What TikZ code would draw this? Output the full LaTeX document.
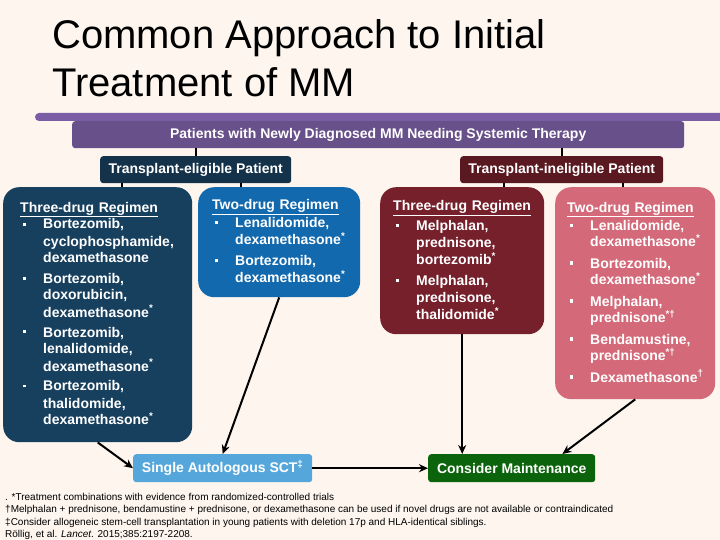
\documentclass[tikz,border=0pt]{standalone}
\usepackage{fontspec}
\setmainfont{Liberation Sans}
\usetikzlibrary{arrows.meta,calc}
\definecolor{bg}{HTML}{FDF5EE}
\definecolor{barpurple}{HTML}{7B5DA5}
\definecolor{toppurple}{HTML}{68508A}
\definecolor{eligcol}{HTML}{14324A}
\definecolor{ineligcol}{HTML}{5A1820}
\definecolor{ethree}{HTML}{17405F}
\definecolor{etwo}{HTML}{1269AE}
\definecolor{ithree}{HTML}{76202C}
\definecolor{itwo}{HTML}{D46A79}
\definecolor{sctcol}{HTML}{55A7DB}
\definecolor{maintcol}{HTML}{0B630B}
\newcommand{\rbul}{\makebox[23pt][l]{\hspace{2.5pt}\raisebox{3.5pt}{\rule{3pt}{3pt}}}}
\newcommand{\ritem}[2][4pt]{\\[#1]\rbul #2}
\newcommand{\rcont}{\\\hspace*{23pt}}
\newcommand{\sast}{\textsuperscript{*}}
\begin{document}
\begin{tikzpicture}[x=1pt,y=-1pt,
  hdrbox/.style={rounded corners=3pt, text=white, font=\bfseries\fontsize{14}{16}\selectfont, inner sep=0pt, anchor=north west},
  regbox/.style={rounded corners=16pt, inner sep=0pt, anchor=north west},
  regtext/.style={anchor=base west, text=white, font=\bfseries\fontsize{14}{17}\selectfont, align=left, inner sep=0pt},
  link/.style={line width=2pt, black},
  arr/.style={line width=2pt, black, -{Stealth[length=9pt,width=8pt]}},
  titletext/.style={anchor=base west, inner sep=0pt, font=\fontsize{40}{48}\selectfont, text=black}
]
\useasboundingbox[fill=bg] (0,0) rectangle (720,540);

% title
\node[titletext] (title1) at (52,49) {Common Approach to Initial};
\node[titletext] (title2) at (52,97) {Treatment of MM};
\fill[barpurple, rounded corners=4pt] (35,113) rectangle (730,121);

% header boxes
\node[hdrbox, fill=toppurple, minimum width=612pt, minimum height=27pt] (top) at (72,121) {Patients with Newly Diagnosed MM Needing Systemic Therapy};
\node[hdrbox, fill=eligcol, minimum width=191pt, minimum height=27pt] (elig) at (100,156) {Transplant-eligible Patient};
\node[hdrbox, fill=ineligcol, minimum width=203pt, minimum height=27pt] (inelig) at (460,156) {Transplant-ineligible Patient};

% regimen boxes
\node[regbox, fill=ethree, minimum width=189pt, minimum height=255pt] (e3) at (3,187) {};
\node[regbox, fill=etwo, minimum width=162pt, minimum height=110pt] (e2) at (198,187) {};
\node[regbox, fill=ithree, minimum width=164pt, minimum height=147pt] (i3) at (380,187) {};
\node[regbox, fill=itwo, minimum width=160pt, minimum height=212pt] (i2) at (555,187) {};

\node[regtext, text width=170pt] (e3t) at (20,212) {\underline{Three-drug Regimen}%
\ritem[0pt]{Bortezomib,}\rcont cyclophosphamide,\rcont dexamethasone%
\ritem[3pt]{Bortezomib,}\rcont doxorubicin,\rcont dexamethasone\sast%
\ritem[3pt]{Bortezomib,}\rcont lenalidomide,\rcont dexamethasone\sast%
\ritem[3pt]{Bortezomib,}\rcont thalidomide,\rcont dexamethasone\sast};

\node[regtext, text width=155pt] (e2t) at (212,210) {\underline{Two-drug Regimen}%
\ritem[1pt]{Lenalidomide,}\rcont dexamethasone\sast%
\ritem{Bortezomib,}\rcont dexamethasone\sast};

\node[regtext, text width=160pt] (i3t) at (393,211) {\underline{Three-drug Regimen}%
\ritem[3pt]{Melphalan,}\rcont prednisone,\rcont bortezomib\sast%
\ritem{Melphalan,}\rcont prednisone,\rcont thalidomide\sast};

\node[regtext, text width=150pt] (i2t) at (567,212) {\underline{Two-drug Regimen}%
\ritem[1pt]{Lenalidomide,}\rcont dexamethasone\sast%
\ritem{Bortezomib,}\rcont dexamethasone\sast%
\ritem{Melphalan,}\rcont prednisone\textsuperscript{*†}%
\ritem{Bendamustine,}\rcont prednisone\textsuperscript{*†}%
\ritem{Dexamethasone\textsuperscript{†}}};

% outcome boxes
\node[hdrbox, fill=sctcol, minimum width=179pt, minimum height=28pt] (sct) at (133,454) {Single Autologous SCT\textsuperscript{‡}};
\node[hdrbox, fill=maintcol, minimum width=167pt, minimum height=28pt] (maint) at (428,454) {Consider Maintenance};

% connectors
\coordinate (xa) at (122,0);
\coordinate (xb) at (241,0);
\coordinate (xc) at (504,0);
\coordinate (xd) at (623,0);
\draw[link] (top.south -| elig.north) -- (elig.north);
\draw[link] (top.south -| inelig.north) -- (inelig.north);
\draw[link] (elig.south -| xa) -- (e3.north -| xa);
\draw[link] (elig.south -| xb) -- (e2.north -| xb);
\draw[link] (inelig.south -| xc) -- (i3.north -| xc);
\draw[link] (inelig.south -| xd) -- (i2.north -| xd);

\draw[arr] (e3.south) -- (sct.west);
\draw[arr] (e2.south) -- (sct.north);
\draw[arr] (sct.east) -- (maint.west);
\draw[arr] (i3.south) -- (i3.south |- maint.north);
\draw[arr] (i2.south) -- ($(maint.north east)+(-33,0)$);

% footnotes
\node[anchor=north west, inner sep=0pt, align=left, font=\fontsize{10}{12.3}\selectfont] (notes) at (5,493)
{. *Treatment combinations with evidence from randomized-controlled trials\\
†Melphalan + prednisone, bendamustine + prednisone, or dexamethasone can be used if novel drugs are not available or contraindicated\\
‡Consider allogeneic stem-cell transplantation in young patients with deletion 17p and HLA-identical siblings.\\
Röllig, et al. \textit{Lancet}. 2015;385:2197-2208.};
\end{tikzpicture}
\end{document}
